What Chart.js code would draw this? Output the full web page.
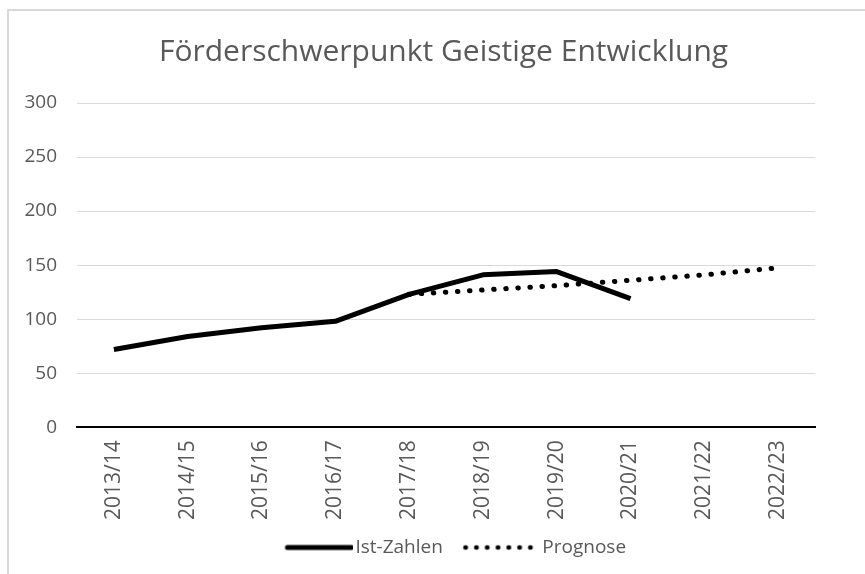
<!DOCTYPE html>
<html>
<head>
<meta charset="utf-8">
<script src="https://cdn.jsdelivr.net/npm/chart.js@4"></script>
<style>
html, body { margin: 0; padding: 0; background: #fff; overflow: hidden; }
#rahmen { position: absolute; left: 7px; top: 9px; width: 1000px; height: 1000px; border: 2px solid #d9d9d9; }
#box { position: absolute; left: 0; top: 0; width: 887px; height: 574px; }
</style>
</head>
<body>
<div id="rahmen"></div>
<div id="box"><canvas id="grafik"></canvas></div>
<script>
// Schuljahre und Werte
const jahre = ["2013/14","2014/15","2015/16","2016/17","2017/18","2018/19","2019/20","2020/21","2021/22","2022/23"];
const istZahlen = [72, 84, 92, 98, 123, 141, 144, 119, null, null];
const prognose = [null, null, null, null, 123, 127, 131, 136, 141, 147.5];
const yTicks = [0, 50, 100, 150, 200, 250, 300];

const schrift = "'Open Sans', sans-serif";
const grau = "#595959";

// kleine Legendenbilder (links transparent, Linie rechts)
function legendenBild(gepunktet) {
  const c = document.createElement("canvas");
  c.width = 100;
  c.height = 8;
  const g = c.getContext("2d");
  g.strokeStyle = "#000";
  g.lineCap = "round";
  g.beginPath();
  if (gepunktet) {
    g.lineWidth = 4.5;
    g.setLineDash([0.5, 10.3]);
    g.moveTo(25, 4);
    g.lineTo(91, 4);
  } else {
    g.lineWidth = 5;
    g.moveTo(34, 4);
    g.lineTo(98, 4);
  }
  g.stroke();
  return c;
}

document.addEventListener("DOMContentLoaded", function () {

new Chart(document.getElementById("grafik"), {
  type: "line",
  data: {
    labels: jahre,
    datasets: [{
      label: "Ist-Zahlen",
      data: istZahlen,
      borderColor: "#000",
      backgroundColor: "#000",
      borderWidth: 5,
      borderJoinStyle: "round",
      pointRadius: 0,
      pointStyle: legendenBild(false),
      tension: 0
    }, {
      label: "Prognose",
      data: prognose,
      borderColor: "#000",
      backgroundColor: "#000",
      borderWidth: 5,
      borderDash: [0.5, 11.6],
      borderCapStyle: "round",
      pointRadius: 0,
      pointStyle: legendenBild(true),
      tension: 0
    }]
  },
  options: {
    responsive: true,
    maintainAspectRatio: false,
    animation: false,
    layout: { padding: { left: 0, right: 0, top: 0, bottom: 7 } },
    plugins: {
      title: {
        display: true,
        text: "Förderschwerpunkt Geistige Entwicklung",
        color: grau,
        font: { family: schrift, size: 30, weight: "normal", lineHeight: 1.2 },
        padding: { top: 34, bottom: 33 }
      },
      legend: {
        position: "bottom",
        labels: {
          color: grau,
          font: { family: schrift, size: 19 },
          usePointStyle: true,
          pointStyleWidth: 85,
          boxHeight: 8,
          padding: 5
        }
      },
      tooltip: { enabled: false }
    },
    scales: {
      x: {
        offset: true,
        grid: { display: false, drawTicks: false },
        border: { color: "#000", width: 2 },
        ticks: {
          color: grau,
          font: { family: schrift, size: 21 },
          minRotation: 90,
          maxRotation: 90,
          padding: 13
        }
      },
      y: {
        min: 0,
        max: 300,
        afterBuildTicks: function (axis) {
          axis.ticks = yTicks.map(function (v) { return { value: v }; });
        },
        afterFit: function (axis) { axis.width = 77; },
        grid: { color: "#d9d9d9", lineWidth: 1, drawTicks: false },
        border: { display: false },
        ticks: {
          color: grau,
          font: { family: schrift, size: 19 },
          padding: 20
        }
      },
      // leere rechte Achse als Rand
      rechts: {
        type: "linear",
        position: "right",
        grid: { display: false, drawTicks: false },
        border: { display: false },
        ticks: { display: false },
        afterFit: function (axis) { axis.width = 72; }
      }
    }
  }
});

});
</script>
</body>
</html>
